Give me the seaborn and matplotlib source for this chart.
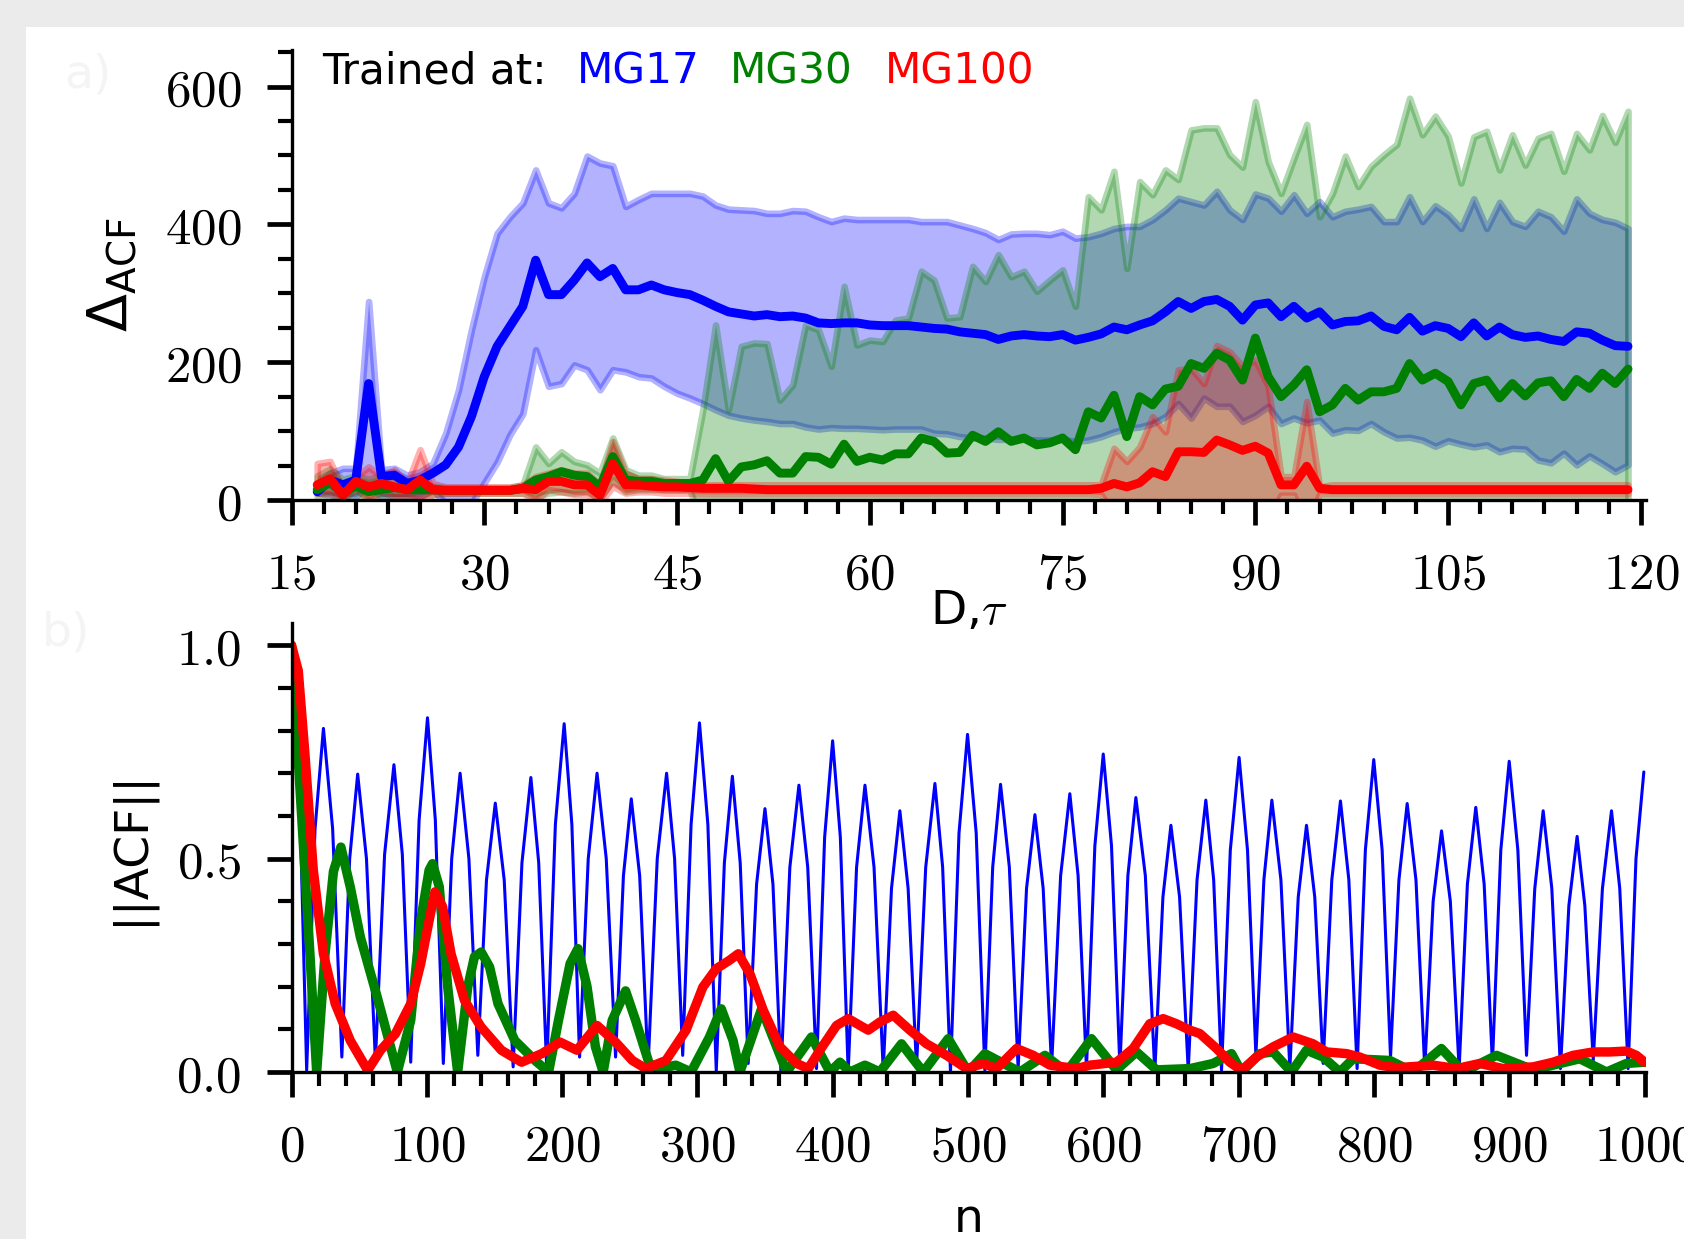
# plot.py
# ACF error vs delay (top) and |ACF| vs lag (bottom) for three MG reservoirs
import matplotlib
matplotlib.use("Agg")
import matplotlib.pyplot as plt
from matplotlib.patches import Rectangle
from matplotlib.ticker import MultipleLocator, FuncFormatter
import numpy as np
import pandas as pd
import seaborn as sns

# -- panel a) : Delta_ACF vs D,tau (read from picture)
D = np.arange(17, 120)

mg17_mean = [12, 29, 22, 29, 169, 34, 36, 24, 29, 39,
             51, 77, 121, 179, 223, 252, 281, 348, 298, 298,
             319, 344, 324, 336, 305, 305, 312, 305, 301, 298,
             290, 281, 273, 270, 267, 269, 266, 267, 264, 257,
             256, 257, 257, 254, 253, 253, 253, 251, 249, 248,
             244, 242, 240, 233, 238, 240, 238, 237, 240, 232,
             236, 241, 251, 247, 254, 260, 273, 288, 278, 288,
             291, 281, 261, 283, 286, 266, 281, 264, 273, 254,
             259, 260, 267, 252, 247, 265, 245, 253, 249, 237,
             257, 238, 251, 240, 236, 238, 233, 230, 244, 242,
             232, 224, 223]
mg17_hi = [24, 39, 46, 46, 288, 44, 46, 36, 41, 53,
           97, 160, 247, 324, 387, 411, 431, 479, 431, 424,
           445, 499, 489, 485, 426, 436, 445, 445, 445, 445,
           441, 428, 422, 421, 420, 416, 416, 420, 419, 411,
           404, 409, 407, 407, 407, 407, 407, 404, 404, 404,
           399, 394, 388, 378, 386, 387, 387, 385, 390, 380,
           382, 387, 394, 397, 397, 407, 421, 438, 433, 428,
           448, 421, 407, 444, 438, 419, 443, 416, 433, 411,
           419, 422, 426, 404, 404, 440, 404, 427, 414, 394,
           437, 394, 432, 404, 397, 419, 411, 390, 437, 416,
           407, 403, 394]
mg17_lo = [10, 7, 5, 5, 20, 5, 5, 5, 5, 15,
           -5, -15, -5, 25, 55, 95, 125, 218, 165, 169,
           196, 189, 160, 189, 186, 179, 177, 165, 155, 148,
           140, 131, 123, 119, 116, 114, 111, 111, 106, 103,
           105, 104, 104, 103, 102, 103, 103, 103, 97, 96,
           92, 90, 90, 88, 88, 88, 87, 87, 88, 85,
           87, 92, 99, 104, 106, 111, 121, 140, 119, 148,
           136, 136, 114, 123, 136, 111, 119, 112, 116, 97,
           102, 101, 111, 99, 90, 91, 87, 78, 86, 81,
           77, 80, 70, 75, 74, 58, 54, 68, 51, 64,
           53, 41, 51]

mg30_mean = [15, 25, 10, 20, 12, 15, 18, 15, 15, 15,
             14, 14, 14, 14, 14, 14, 17, 29, 34, 41,
             36, 34, 19, 63, 29, 27, 27, 24, 24, 24,
             29, 60, 27, 48, 51, 57, 39, 39, 63, 62,
             52, 81, 56, 62, 58, 67, 67, 90, 85, 68,
             69, 94, 85, 99, 85, 90, 80, 83, 90, 73,
             128, 119, 152, 92, 150, 138, 161, 165, 198, 191,
             213, 203, 174, 235, 179, 150, 167, 189, 128, 138,
             162, 145, 157, 157, 162, 198, 174, 184, 172, 138,
             169, 174, 148, 169, 151, 170, 173, 150, 175, 162,
             184, 169, 190]
mg30_hi = [35, 45, 30, 35, 30, 35, 35, 28, 25, 20,
           18, 18, 18, 18, 18, 18, 22, 77, 53, 70,
           56, 51, 39, 90, 44, 36, 36, 31, 31, 31,
           130, 254, 131, 223, 228, 227, 145, 167, 254, 247,
           194, 310, 225, 232, 230, 261, 264, 332, 319, 264,
           266, 339, 317, 356, 324, 332, 303, 319, 334, 281,
           440, 421, 477, 336, 462, 443, 479, 465, 537, 540,
           540, 501, 483, 578, 491, 445, 496, 545, 411, 445,
           499, 455, 484, 501, 516, 583, 530, 557, 528, 460,
           527, 535, 479, 530, 486, 525, 532, 477, 532, 508,
           558, 519, 564]
mg30_lo = [5, 8, 0, 8, 0, 5, 5, 5, 8, 8,
           10, 10, 10, 10, 10, 10, 10, 5, 10, 12,
           10, 12, 2, 30, 12, 15, 15, 15, 15, 15,
           -40, -40, -40, -40, -40, -40, -40, -40, -40, -40,
           -40, -40, -40, -40, -40, -40, -40, -40, -40, -40,
           -40, -40, -40, -40, -40, -40, -40, -40, -40, -40,
           -40, -40, -40, -40, -40, -40, -40, -40, -40, -40,
           -40, -40, -40, -40, -40, -40, -40, -40, -40, -40,
           -40, -40, -40, -40, -40, -40, -40, -40, -40, -40,
           -40, -40, -40, -40, -40, -40, -40, -40, -40, -40,
           -40, -40, -40]

mg100_mean = [22, 31, 7, 27, 19, 24, 19, 15, 29, 15,
              14, 14, 14, 14, 14, 14, 17, 15, 27, 27,
              22, 22, 7, 53, 22, 22, 20, 19, 19, 18,
              17, 17, 17, 17, 16, 15, 15, 15, 15, 15,
              15, 15, 15, 15, 15, 15, 15, 15, 15, 15,
              15, 15, 15, 15, 15, 15, 15, 15, 15, 15,
              15, 17, 24, 19, 25, 41, 34, 70, 70, 69,
              87, 80, 72, 78, 68, 22, 22, 49, 17, 15,
              15, 15, 15, 15, 15, 15, 15, 15, 15, 15,
              15, 15, 15, 15, 15, 15, 15, 15, 15, 15,
              15, 15, 15]
mg100_hi = [53, 56, 15, 34, 48, 34, 44, 24, 73, 24,
            19, 19, 19, 19, 19, 19, 22, 34, 39, 44,
            39, 39, 22, 85, 39, 31, 31, 29, 27, 24,
            22, 22, 22, 22, 22, 22, 22, 22, 22, 22,
            22, 22, 22, 22, 22, 22, 22, 22, 22, 22,
            22, 22, 22, 22, 22, 22, 22, 22, 22, 22,
            22, 22, 75, 56, 77, 121, 99, 189, 191, 169,
            224, 215, 194, 203, 165, 34, 34, 143, 19, 22,
            22, 22, 22, 22, 22, 22, 22, 22, 22, 22,
            22, 22, 22, 22, 22, 22, 22, 22, 22, 22,
            22, 22, 22]
mg100_lo = [10, 10, 0, 17, 0, 12, 5, 5, 0, 8,
            10, 10, 10, 10, 10, 10, 10, 0, 15, 12,
            8, 8, -5, 20, 10, 12, 12, 10, 10, 10,
            9, 9, 9, 9, 9, 9, 9, 9, 9, 9,
            9, 9, 9, 9, 9, 9, 9, 9, 9, 9,
            9, 9, 9, 9, 9, 9, 9, 9, 9, 9,
            9, 8, -20, -20, -25, -40, -30, -50, -50, -30,
            -50, -55, -50, -45, -30, 7, 7, -40, 9, 9,
            9, 9, 9, 9, 9, 9, 9, 9, 9, 9,
            9, 9, 9, 9, 9, 9, 9, 9, 9, 9,
            9, 9, 9]

# -- panel b) : |ACF| vs lag n (vertices read from picture)
acf17_n = [0, 5.6,
           11.2, 17.4, 23.6, 30.4, 37.2, 43.0, 48.9, 55.4,
           62.0, 68.8, 75.7, 81.9, 88.1, 94.3, 100.5, 106.3,
           112.2, 118.4, 124.6, 131.1, 137.7, 144.1, 150.6, 157.2,
           163.8, 170.3, 176.9, 182.7, 188.6, 195.0, 201.5, 207.2,
           212.9, 219.3, 225.8, 232.6, 239.5, 245.3, 251.1, 257.3,
           263.5, 270.3, 277.2, 283.1, 289.1, 295.3, 301.5, 307.7,
           313.9, 319.9, 325.8, 331.6, 337.5, 343.7, 349.9, 355.8,
           361.7, 368.3, 375.0, 381.5, 388.0, 394.0, 399.9, 405.6,
           411.4, 417.6, 423.8, 430.5, 437.3, 443.4, 449.6, 455.7,
           461.9, 468.7, 475.5, 481.2, 487.0, 493.3, 499.6, 506.0,
           512.4, 518.2, 524.0, 530.5, 537.0, 543.2, 549.4, 555.5,
           561.7, 568.4, 575.2, 581.3, 587.5, 593.7, 599.9, 606.0,
           612.2, 618.1, 624.0, 631.0, 638.0, 644.0, 649.9, 656.3,
           662.7, 669.2, 675.7, 681.5, 687.3, 693.8, 700.3, 706.5,
           712.7, 718.6, 724.5, 731.2, 737.8, 744.0, 750.1, 756.2,
           762.4, 768.8, 775.2, 781.4, 787.5, 793.6, 799.8, 806.0,
           812.2, 818.4, 824.5, 831.0, 837.5, 843.7, 849.9, 856.4,
           862.9, 869.0, 875.2, 881.4, 887.5, 893.7, 899.9, 906.3,
           912.7, 918.8, 925.0, 931.4, 937.8, 944.0, 950.1, 955.8,
           962.0, 968.8, 975.5, 981.6, 987.8, 993.6, 999.4]
acf17 = [1.0, 0.70,
         0.004, 0.57, 0.805, 0.57, 0.035, 0.50, 0.698, 0.50,
         0.027, 0.51, 0.72, 0.51, 0.023, 0.59, 0.83, 0.59,
         0.02, 0.50, 0.70, 0.50, 0.039, 0.45, 0.63, 0.45,
         0.012, 0.49, 0.69, 0.49, 0.008, 0.58, 0.816, 0.58,
         0.035, 0.50, 0.70, 0.50, 0.035, 0.46, 0.64, 0.46,
         0.012, 0.50, 0.70, 0.50, 0.039, 0.58, 0.818, 0.58,
         0.002, 0.49, 0.693, 0.49, 0.02, 0.44, 0.617, 0.44,
         0.0, 0.48, 0.672, 0.48, 0.008, 0.55, 0.776, 0.55,
         0.0, 0.48, 0.672, 0.48, 0.004, 0.43, 0.612, 0.43,
         0.012, 0.48, 0.676, 0.48, 0.0, 0.56, 0.791, 0.56,
         0.004, 0.48, 0.674, 0.48, 0.008, 0.43, 0.603, 0.43,
         0.012, 0.46, 0.652, 0.46, 0.008, 0.53, 0.745, 0.53,
         0.012, 0.46, 0.643, 0.46, 0.0, 0.41, 0.578, 0.41,
         0.004, 0.45, 0.637, 0.45, 0.004, 0.52, 0.737, 0.52,
         0.039, 0.45, 0.637, 0.45, 0.008, 0.41, 0.578, 0.41,
         0.02, 0.45, 0.635, 0.45, 0.008, 0.52, 0.732, 0.52,
         0.035, 0.45, 0.629, 0.45, 0.008, 0.40, 0.565, 0.40,
         0.008, 0.44, 0.62, 0.44, 0.02, 0.52, 0.728, 0.52,
         0.039, 0.43, 0.612, 0.43, 0.008, 0.39, 0.552, 0.39,
         0.027, 0.43, 0.612, 0.43, 0.008, 0.50, 0.703]

acf30_n = [0, 6.2, 13.6, 18.6, 24.8, 31.0, 36.5, 43.4, 50.9, 63.3, 78.2,
           88.1, 95.5, 101.7, 104.2, 109.2, 115.4, 122.8, 130.3, 135.2,
           140.2, 146.4, 152.6, 165, 180, 190, 197.3, 205.9, 211.7, 218.4,
           224.6, 230.3, 237, 246.9, 254.3, 264.3, 271.7, 284, 295.3,
           308.9, 317.6, 326.3, 331.4, 347.4, 365.9, 384.3, 397.9, 405.3,
           412.7, 423.8, 434.8, 450.8, 466.9, 485.3, 500.1, 512.4, 538.3,
           556.8, 572.8, 591.2, 609.7, 624.5, 639.3, 664, 681.1, 694.7,
           702.1, 715.6, 725.5, 739, 750.1, 762.4, 774.7, 784.6, 811.7,
           828.9, 849.8, 865.9, 890.5, 917.6, 952.1, 971.8, 986.5, 1000]
acf30 = [1.0, 0.668, 0.277, 0.0, 0.277, 0.47, 0.527, 0.434, 0.316, 0.176, 0.0,
         0.121, 0.355, 0.473, 0.488, 0.434, 0.2, 0.0, 0.2, 0.27,
         0.281, 0.246, 0.16, 0.074, 0.027, 0.0, 0.121, 0.254, 0.289, 0.2,
         0.059, 0.0, 0.121, 0.19, 0.121, 0.02, 0.008, 0.016, 0.0,
         0.082, 0.148, 0.074, 0.0, 0.148, 0.0, 0.082, 0.0, 0.023,
         0.0, 0.016, 0.0, 0.066, 0.0, 0.078, 0.0, 0.043, 0.0,
         0.039, 0.0, 0.078, 0.005, 0.047, 0.005, 0.008, 0.02, 0.043,
         0.0, 0.043, 0.047, 0.0, 0.051, 0.035, 0.0, 0.031, 0.027,
         0.0, 0.055, 0.0, 0.039, 0.005, 0.031, 0.0, 0.02, 0.023]

acf100_n = [0, 5, 9.9, 16.1, 23.6, 32.3, 43.4, 56.3, 65.8, 76.9, 88.1,
            95.5, 101.7, 106, 111.7, 117.9, 127.8, 140.2, 155.1, 170,
            184.9, 198.5, 210.9, 225.8, 239.5, 251.9, 261.8, 276.7, 291.6,
            304, 313.9, 323.8, 330.2, 338.8, 348.6, 361, 373.3, 381.9,
            390.5, 402.8, 411.4, 426.2, 434.8, 444.7, 457, 469.3, 484.1,
            498.9, 511.2, 521, 535.8, 548.1, 560.5, 580.2, 590, 609.7,
            622, 634.3, 644.2, 654, 663.9, 671.3, 683.6, 693.4, 702.1,
            713.1, 725.5, 740.2, 755, 764.9, 779.7, 789.5, 804.3, 816.6,
            843.7, 861, 878.2, 895.4, 917.6, 932.4, 947.1, 961.9, 974.2,
            986.5, 993.9, 1000]
acf100 = [1.0, 0.94, 0.746, 0.473, 0.277, 0.16, 0.074, 0.004, 0.051, 0.09, 0.16,
          0.254, 0.355, 0.422, 0.387, 0.277, 0.168, 0.105, 0.051, 0.023,
          0.043, 0.07, 0.051, 0.109, 0.07, 0.027, 0.008, 0.027, 0.098,
          0.199, 0.242, 0.262, 0.277, 0.23, 0.145, 0.059, 0.02, 0.008,
          0.051, 0.109, 0.125, 0.098, 0.117, 0.133, 0.098, 0.066, 0.039,
          0.008, 0.02, 0.008, 0.055, 0.039, 0.016, 0.008, 0.016, 0.023,
          0.055, 0.113, 0.125, 0.113, 0.098, 0.09, 0.055, 0.023, 0.004,
          0.035, 0.059, 0.082, 0.066, 0.047, 0.043, 0.035, 0.016, 0.01,
          0.016, 0.008, 0.02, 0.008, 0.012, 0.023, 0.039, 0.047, 0.047,
          0.049, 0.039, 0.023]

SERIES = [("MG17", "blue"), ("MG30", "green"), ("MG100", "red")]

W, H = 1684, 1239


def style_axis(ax):
    sns.despine(ax=ax)
    for s in ("left", "bottom"):
        ax.spines[s].set_color("black")
        ax.spines[s].set_linewidth(1.2)
    ax.tick_params(which="major", direction="out", length=9, width=1.7,
                   color="black", labelcolor="black", labelsize=18.4, pad=9)
    ax.tick_params(which="minor", direction="out", length=5, width=1.5,
                   color="black")


def main():
    sns.set_theme(style="ticks")
    plt.rcParams["font.family"] = ["DejaVu Sans"]
    plt.rcParams["mathtext.fontset"] = "cm"
    plt.rcParams["text.color"] = "black"
    plt.rcParams["axes.labelcolor"] = "black"

    fig = plt.figure(figsize=(W / 200, H / 200), dpi=200, facecolor="#ebebeb")
    fig.add_artist(Rectangle((26 / W, 0), 1, 1 - 27 / H, transform=fig.transFigure,
                             facecolor="white", edgecolor="none", zorder=-10))

    ax1 = fig.add_axes([291.5 / W, 1 - 500 / H, (1646 - 291.5) / W, 450 / H])
    ax2 = fig.add_axes([291.5 / W, 1 - 1072 / H, (1646 - 291.5) / W, 449 / H])
    ax1.set_zorder(2)  # keep the D,tau label above panel b

    # panel a
    top = pd.DataFrame({"D": D,
                        "MG17": mg17_mean, "MG17_lo": mg17_lo, "MG17_hi": mg17_hi,
                        "MG30": mg30_mean, "MG30_lo": mg30_lo, "MG30_hi": mg30_hi,
                        "MG100": mg100_mean, "MG100_lo": mg100_lo, "MG100_hi": mg100_hi})
    for name, col in SERIES:
        ax1.fill_between(top["D"], top[name + "_lo"], top[name + "_hi"],
                         color=col, alpha=0.3, lw=2.4)
    for name, col in SERIES:
        sns.lineplot(data=top, x="D", y=name, color=col, lw=3.2, ax=ax1)

    ax1.set_xlim(15, 120.4)
    ax1.set_ylim(0, 653)
    ax1.xaxis.set_major_locator(MultipleLocator(15))
    ax1.xaxis.set_minor_locator(MultipleLocator(2.5))
    ax1.yaxis.set_major_locator(MultipleLocator(200))
    ax1.yaxis.set_minor_locator(MultipleLocator(50))
    ax1.xaxis.set_major_formatter(FuncFormatter(lambda v, p: f"${v:g}$"))
    ax1.yaxis.set_major_formatter(FuncFormatter(lambda v, p: f"${v:g}$"))
    style_axis(ax1)
    ax1.set_xlabel("D,$\\tau$", fontsize=17, labelpad=-4)
    ax1.set_ylabel(r"$\Delta_{\mathrm{ACF}}$", fontsize=20,
                   math_fontfamily="dejavusans", labelpad=9)

    # panel b
    sns.lineplot(x=acf17_n, y=acf17, color="blue", lw=1.1, ax=ax2)
    sns.lineplot(x=acf30_n, y=acf30, color="green", lw=3.4, ax=ax2)
    sns.lineplot(x=acf100_n, y=acf100, color="red", lw=3.4, ax=ax2)

    ax2.set_xlim(0, 1001)
    ax2.set_ylim(0, 1.052)
    ax2.xaxis.set_major_locator(MultipleLocator(100))
    ax2.xaxis.set_minor_locator(MultipleLocator(20))
    ax2.yaxis.set_major_locator(MultipleLocator(0.5))
    ax2.yaxis.set_minor_locator(MultipleLocator(0.1))
    ax2.xaxis.set_major_formatter(FuncFormatter(lambda v, p: f"${v:g}$"))
    ax2.yaxis.set_major_formatter(FuncFormatter(lambda v, p: f"${v:.1f}$"))
    style_axis(ax2)
    ax2.set_xlabel("n", fontsize=17, labelpad=9)
    ax2.set_ylabel("||ACF||", fontsize=17, labelpad=8)

    # "legend" made of coloured words
    fig.text(322 / W, 1 - 83 / H, "Trained at:", fontsize=15.2, va="baseline", color="black")
    for (name, col), x in zip(SERIES, (577, 730, 885)):
        fig.text(x / W, 1 - 83 / H, name, fontsize=15.2, va="baseline", color=col)

    # faint panel tags
    fig.text(88 / W, 1 - 75 / H, "a)", fontsize=17, color="#f4f4f4", ha="center", va="center")
    fig.text(66 / W, 1 - 633 / H, "b)", fontsize=17, color="#f4f4f4", ha="center", va="center")

    fig.savefig("out.png", dpi=200, facecolor=fig.get_facecolor())
    plt.close(fig)


if __name__ == "__main__":
    main()
